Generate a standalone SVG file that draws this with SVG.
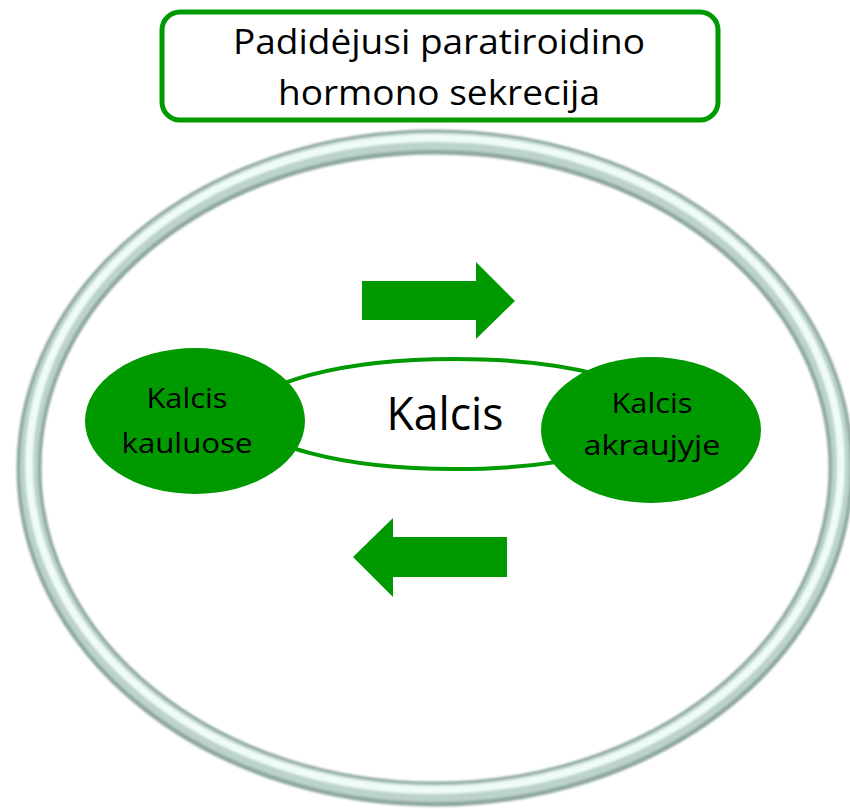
<svg xmlns="http://www.w3.org/2000/svg" width="850" height="809" viewBox="0 0 850 809">
  <defs>
    <filter id="soft" x="-5%" y="-5%" width="110%" height="110%">
      <feGaussianBlur stdDeviation="1.2"/>
    </filter>
  </defs>
  <style>
    .txt { font-family: "Open Sans", Lato, "Liberation Sans", sans-serif; fill: #000; text-anchor: middle; font-variant-ligatures: none; }
    .title { font-size: 34px; }
    .small { font-size: 28px; }
    .big { font-size: 45px; }
    .node { fill: #009900; stroke: none; }
    .arrow { fill: #009900; stroke: none; }
  </style>
  <rect width="850" height="809" fill="#ffffff"/>

  <g id="ring">
    <ellipse cx="435" cy="468" rx="406" ry="326" fill="none" stroke="#8ea79d" stroke-width="25" filter="url(#soft)"/>
    <ellipse cx="435" cy="467" rx="406" ry="326" fill="none" stroke="#bcd3ca" stroke-width="18" filter="url(#soft)"/>
    <ellipse cx="435" cy="464" rx="406" ry="326" fill="none" stroke="#eefbf6" stroke-width="8" filter="url(#soft)"/>
  </g>

  <g id="title">
    <rect x="162" y="12" width="556" height="108" rx="18" ry="18" fill="#ffffff" stroke="#009900" stroke-width="5"/>
    <text class="txt title" x="439" y="54" textLength="412" lengthAdjust="spacingAndGlyphs">Padidėjusi paratiroidino</text>
    <text class="txt title" x="439" y="105" textLength="322" lengthAdjust="spacingAndGlyphs">hormono sekrecija</text>
  </g>

  <g id="calcium">
    <ellipse cx="455" cy="414" rx="206" ry="55" fill="#ffffff" stroke="#009900" stroke-width="4"/>
    <text class="txt big" x="445" y="430" textLength="117" lengthAdjust="spacingAndGlyphs">Kalcis</text>
  </g>

  <g id="bone">
    <ellipse class="node" cx="195" cy="421" rx="110" ry="73"/>
    <text class="txt small" x="187" y="408" textLength="81" lengthAdjust="spacingAndGlyphs">Kalcis</text>
    <text class="txt small" x="187" y="453" textLength="131" lengthAdjust="spacingAndGlyphs">kauluose</text>
  </g>

  <g id="blood">
    <ellipse class="node" cx="651" cy="430" rx="110" ry="73"/>
    <text class="txt small" x="652" y="413" textLength="81" lengthAdjust="spacingAndGlyphs">Kalcis</text>
    <text class="txt small" x="652" y="455" textLength="137" lengthAdjust="spacingAndGlyphs">akraujyje</text>
  </g>

  <g id="connectors">
    <polygon class="arrow" points="362,281 476,281 476,262 515,301 476,339 476,320 362,320"/>
    <polygon class="arrow" points="507,537 393,537 393,518 353,557 393,597 393,577 507,577"/>
  </g>
</svg>
